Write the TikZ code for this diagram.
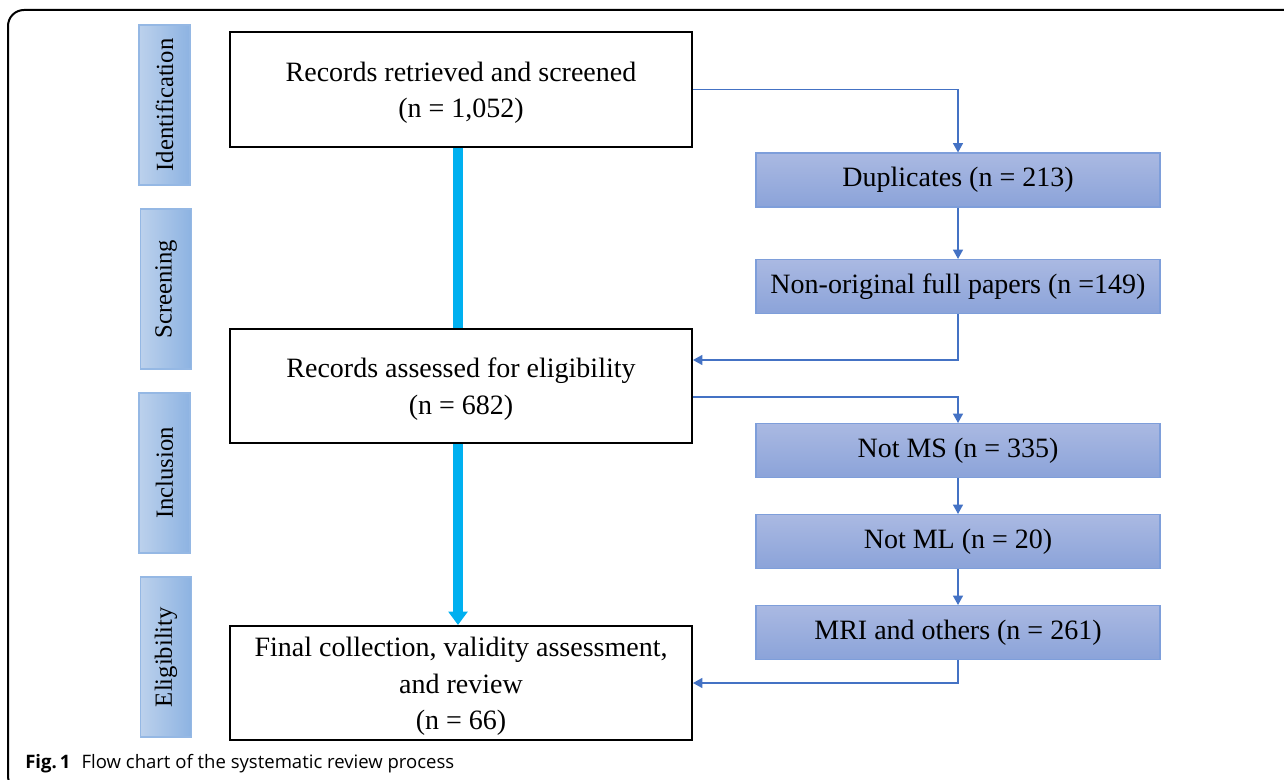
\documentclass[tikz,border=0pt]{standalone}
\usepackage{fontspec}
\setmainfont{Liberation Serif}
\newfontfamily\capfont{Open Sans}
\usetikzlibrary{arrows.meta,calc}
\definecolor{phaseL}{HTML}{BCD1EC}
\definecolor{phaseR}{HTML}{8DB3E2}
\definecolor{phaseB}{HTML}{95B8E4}
\definecolor{exT}{HTML}{AAB9E2}
\definecolor{exB}{HTML}{8BA3D9}
\definecolor{exD}{HTML}{7E9EDA}
\definecolor{link}{HTML}{4472C4}
\definecolor{flow}{HTML}{00B0F0}
\tikzset{
  phase/.style={draw=phaseB, line width=0.8pt, left color=phaseL, right color=phaseR,
    minimum width=38.25pt, minimum height=120pt, inner sep=0pt},
  phasetext/.style={rotate=90, font=\fontsize{18.5}{20}\selectfont},
  mainbox/.style={draw=black, line width=1.5pt, fill=white, minimum width=346.5pt,
    minimum height=85.5pt, inner sep=0pt},
  maintext/.style={align=center, font=\fontsize{21}{27.5}\selectfont, inner sep=0pt},
  exbox/.style={draw=exD, line width=0.8pt, top color=exT, bottom color=exB,
    minimum width=303pt, minimum height=40.5pt, font=\fontsize{21}{24}\selectfont, inner sep=0pt},
  link/.style={draw=link, line width=1pt, -{Triangle[width=7.5pt,length=7pt]}},
  flowline/.style={draw=flow, line width=7.5pt},
}
\begin{document}
\begin{tikzpicture}[x=0.75pt,y=-0.75pt]
\useasboundingbox (0,0) rectangle (1284,780);
% outer frame
\draw[line width=1.5pt, rounded corners=12pt] (1300,10) -- (8,10) -- (8,792) -- (1300,792);
% phase labels
\node[phase] (ph1) at (164.5,105) {};
\node[phasetext] (pt1) at (ph1.center) {Identification};
\node[phase] (ph2) at (166,289) {};
\node[phasetext] (pt2) at (ph2.center) {Screening};
\node[phase] (ph3) at (164.5,473) {};
\node[phasetext] (pt3) at (ph3.center) {Inclusion};
\node[phase] (ph4) at (166,657) {};
\node[phasetext] (pt4) at (ph4.center) {Eligibility};
% main boxes
\node[mainbox, minimum height=86.25pt] (b1) at (461,89.5) {};
\node[maintext] (t1) at ([yshift=-2.5pt]b1.center) {Records retrieved and screened\\(n = 1,052)};
\node[mainbox] (b2) at (461,386) {};
\node[maintext] (t2) at ([yshift=-2.5pt]b2.center) {Records assessed for eligibility\\(n = 682)};
\node[mainbox] (b3) at (461,683) {};
\node[maintext] (t3) at ([yshift=-2.5pt]b3.center) {Final collection, validity assessment,\\and review\\(n = 66)};
% flow lines
\draw[flowline] ($(b1.south)+(-3,0)$) -- ($(b2.north)+(-3,0)$);
\draw[flowline, -{Triangle[width=14pt,length=10pt]}] ($(b2.south)+(-3,0)$) -- ($(b3.north)+(-3,0)$);
% exclusion boxes
\node[exbox] (dup) at (958,180) {Duplicates (n = 213)};
\node[exbox] (nof) at (958,286.5) {Non-original full papers (n =149)};
\node[exbox] (nms) at (958,450.5) {Not MS (n = 335)};
\node[exbox] (nml) at (958,541.5) {Not ML (n = 20)};
\node[exbox] (mri) at (958,632.5) {MRI and others (n = 261)};
% connectors
\coordinate (j1) at (958,360);
\coordinate (j2) at (692,397);
\draw[link] (b1.east) -| (dup.north);
\draw[link] (dup.south) -- (nof.north);
\draw[link] (nof.south) -- (j1) -- (b2.east |- j1);
\draw[link] (b2.east |- j2) -| (nms.north);
\draw[link] (nms.south) -- (nml.north);
\draw[link] (nml.south) -- (mri.north);
\draw[link] (mri.south) |- (b3.east);
% caption
\node[anchor=base west, inner sep=0pt, font=\capfont\fontsize{13.9}{16}\selectfont] (cap) at (25,768)
  {\textbf{Fig.\,1}\hspace{0.6em}Flow chart of the systematic review process};
\end{tikzpicture}
\end{document}
